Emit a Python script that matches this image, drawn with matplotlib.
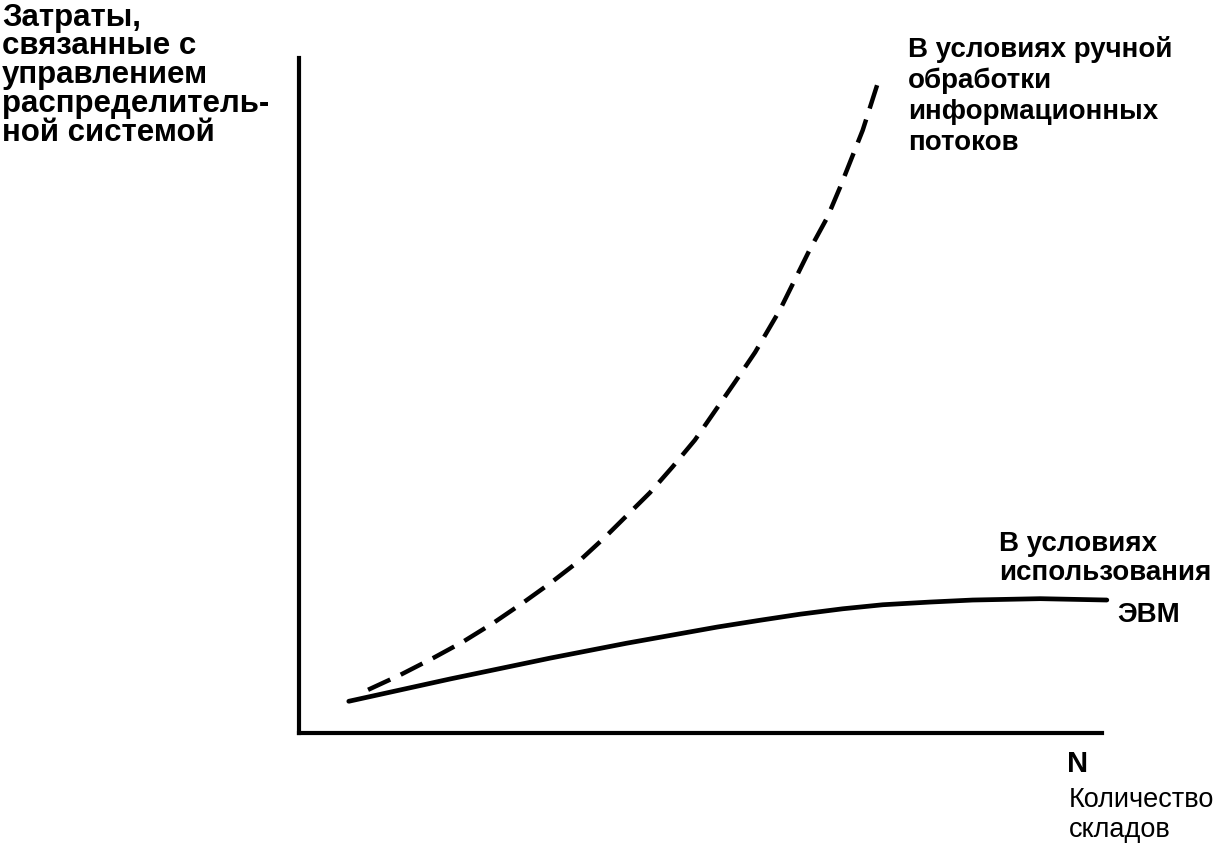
import matplotlib
matplotlib.use("Agg")
import matplotlib.pyplot as plt

plt.rcParams['font.family'] = ['Liberation Sans', 'DejaVu Sans']

# curve points (N on x, costs on y), arbitrary units 0..100
manual_x = [8.6, 12.6, 16.7, 20.4, 24.2, 27.9, 31.3, 35.0, 38.1, 43.7, 46.5,
            49.3, 54.3, 56.8, 59.9, 63.6, 65.8, 67.4, 70.2, 72.0]
manual_y = [6.4, 8.6, 11.1, 13.5, 16.3, 19.3, 22.2, 25.6, 29.0, 35.6, 39.4,
            43.4, 52.0, 56.4, 62.7, 71.6, 76.4, 80.9, 89.3, 96.0]

computer_x = [6.2, 18.8, 31.3, 40.8, 52.1, 57.4, 62.4, 67.7, 72.7, 78.6,
              83.9, 92.3, 100.6]
computer_y = [4.7, 8.0, 11.1, 13.3, 15.7, 16.7, 17.6, 18.4, 19.0, 19.4,
              19.7, 19.9, 19.7]

ylabel_text = "Затраты,\nсвязанные с\nуправлением\nраспределитель-\nной системой"
manual_text = "В условиях ручной\nобработки\nинформационных\nпотоков"
computer_text = "В условиях\nиспользования"
computer_text2 = "ЭВМ"
xaxis_letter = "N"
xlabel_text = "Количество\nскладов"

W, H = 1222, 855
fig = plt.figure(figsize=(W / 100, H / 100), dpi=100)
ax = fig.add_axes([299 / W, 1 - 733 / H, 803 / W, 675 / H])

ax.plot(manual_x, manual_y, color='black', lw=3.2, dashes=(5.5, 2.6),
        solid_capstyle='butt', clip_on=False)
ax.plot(computer_x, computer_y, color='black', lw=3.4, clip_on=False,
        solid_capstyle='round', solid_joinstyle='round')

ax.set_xlim(0, 100)
ax.set_ylim(0, 100)
for side in ('top', 'right'):
    ax.spines[side].set_visible(False)
for side in ('left', 'bottom'):
    ax.spines[side].set_linewidth(3.0)
ax.set_xticks([])
ax.set_yticks([])


def px_text(x, y, s, **kw):
    # x = left edge, y = baseline of the last line, in pixels from top-left
    fig.text(x / W, 1 - y / H, s, ha='left', va='baseline',
             color='black', **kw)


px_text(2, 141, ylabel_text, fontsize=22.5, fontweight='bold', linespacing=0.95)
px_text(908, 150, manual_text, fontsize=20, fontweight='bold', linespacing=1.24)
px_text(999, 580, computer_text, fontsize=20, fontweight='bold', linespacing=1.15)
px_text(1117, 622, computer_text2, fontsize=20, fontweight='bold')
px_text(1067, 772, xaxis_letter, fontsize=21, fontweight='bold')
px_text(1069, 837, xlabel_text, fontsize=19.5, linespacing=1.18)

fig.savefig("out.png", dpi=100)
